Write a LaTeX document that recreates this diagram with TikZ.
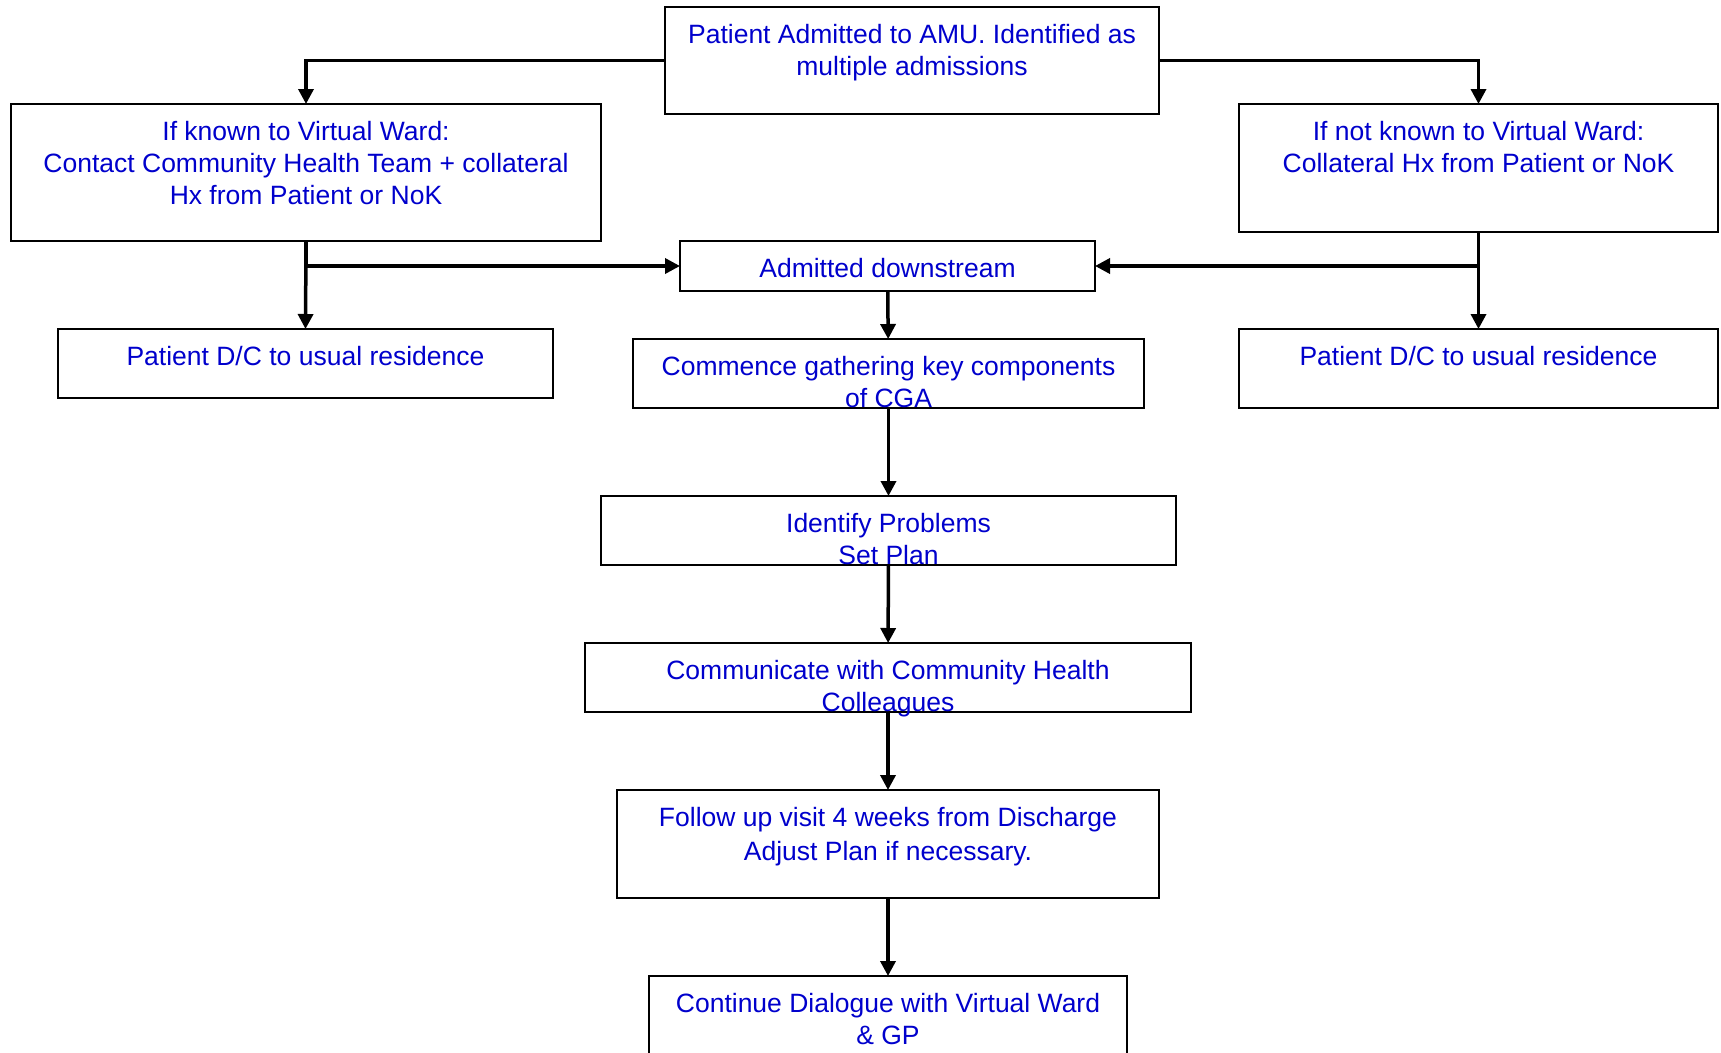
\documentclass[tikz,border=0pt]{standalone}
\usepackage{fontspec}
\setmainfont{Liberation Sans}
\usetikzlibrary{arrows.meta}
\definecolor{txtblue}{RGB}{0,0,204}
\newcommand*\boxtxt[3]{\parbox[c][#2][t]{#1}{\centering\vspace*{14pt}\strut #3}}

\begin{document}
\begin{tikzpicture}[x=1pt,y=-1pt,
    box/.style={draw,line width=2pt,inner sep=0pt,outer sep=0pt,text=txtblue,
      font=\fontsize{26.5}{32}\selectfont},
    link/.style={line width=3.5pt,-{Triangle[length=15pt,width=15pt]}}]
    \useasboundingbox (0,0) rectangle (1721,1052);

    \node[box] (amu) at (912,60.5) {\boxtxt{494pt}{107pt}{Patient Admitted to AMU. Identified as\\ multiple admissions}};
    \node[box] (known) at (306,172.5) {\boxtxt{590pt}{137pt}{If known to Virtual Ward:\\ Contact Community Health Team + collateral\\ Hx from Patient or NoK}};
    \node[box] (notknown) at (1478.5,168) {\boxtxt{479pt}{128pt}{If not known to Virtual Ward:\\ Collateral Hx from Patient or NoK}};
    \draw[link] (amu.west) -| (known.north);
    \draw[link] (amu.east) -| (notknown.north);

    \node[box] (downstream) at (887.5,266) {\boxtxt{415pt}{50pt}{Admitted downstream}};
    \node[box] (dcleft) at (305.5,363.5) {\boxtxt{495pt}{69pt}{Patient D/C to usual residence}};
    \node[box] (dcright) at (1478.5,368.5) {\boxtxt{479pt}{79pt}{Patient D/C to usual residence}};
    \draw[link] (known.south) -- (dcleft.north);
    \draw[link] (known.south) |- (downstream.west);
    \draw[link] (notknown.south) -- (dcright.north);
    \draw[link] (notknown.south) |- (downstream.east);

    % main column
    \node[box] (cga) at (888.5,373.5) {\boxtxt{511pt}{69pt}{Commence gathering key components\\ of CGA}};
    \node[box] (problems) at (888.5,530.5) {\boxtxt{575pt}{69pt}{Identify Problems\\ Set Plan}};
    \node[box] (colleagues) at (888,677.5) {\boxtxt{606pt}{69pt}{Communicate with Community Health\\ Colleagues}};
    \node[box] (followup) at (888,844) {\boxtxt{542pt}{108pt}{Follow up visit 4 weeks from Discharge\\[2pt] Adjust Plan if necessary.}};
    \node[box] (dialogue) at (888,1026) {\boxtxt{478pt}{100pt}{Continue Dialogue with Virtual Ward\\ \& GP}};
    \draw[link] (downstream) -- (cga);
    \draw[link] (cga) -- (problems);
    \draw[link] (problems) -- (colleagues);
    \draw[link] (colleagues) -- (followup);
    \draw[link] (followup) -- (dialogue);
\end{tikzpicture}
\end{document}
